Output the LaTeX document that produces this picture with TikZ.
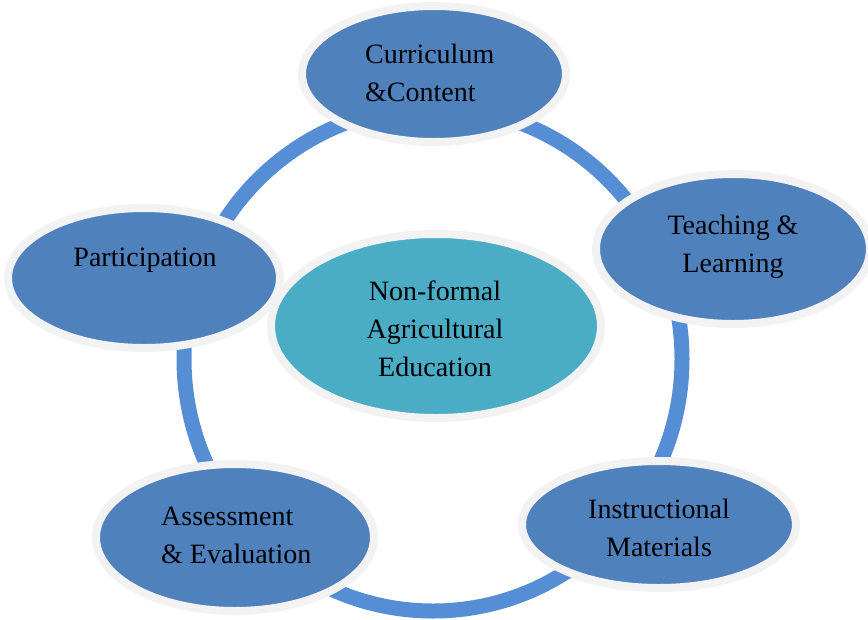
\documentclass[tikz,border=0pt]{standalone}
\usepackage{fontspec}
\setmainfont{Liberation Serif}
\usetikzlibrary{shapes.geometric}
\definecolor{ringblue}{HTML}{558ED5}
\definecolor{bubblefill}{HTML}{4F81BD}
\definecolor{hubfill}{HTML}{4BACC6}
\definecolor{rimgray}{HTML}{F2F2F2}
\begin{document}
\begin{tikzpicture}[x=1pt,y=-1pt,
    bubble/.style={ellipse,draw=rimgray,line width=8pt,fill=bubblefill,inner sep=0pt},
    lbl/.style={inner sep=0pt,text=black,font=\fontsize{28}{38}\selectfont}]
    \useasboundingbox[fill=white] (0,0) rectangle (868,619);
    % ring behind the bubbles
    \draw[ringblue,line width=15pt] (433,359) ellipse [x radius=249, y radius=252];
    % bubbles
    \node[bubble,minimum width=264pt,minimum height=136pt] (curr) at (434,74) {};
    \node[bubble,minimum width=274pt,minimum height=150pt] (teach) at (733,249) {};
    \node[bubble,minimum width=272pt,minimum height=140pt] (part) at (144,278) {};
    \node[bubble,minimum width=278pt,minimum height=147pt] (assess) at (235,537.5) {};
    \node[bubble,minimum width=274pt,minimum height=127pt] (instr) at (659,524.5) {};
    \node[bubble,fill=hubfill,minimum width=330pt,minimum height=184pt] (hub) at (436,326) {};
    % texts
    \node[lbl,align=left,anchor=west] (currtxt) at (365,73) {Curriculum\\\&Content};
    \node[lbl,align=center] (teachtxt) at (733,247) {Teaching \&\\Learning};
    \node[lbl] (parttxt) at (145,260.5) {Participation};
    \node[lbl,align=left,anchor=west] (assesstxt) at (161,535) {Assessment\\\& Evaluation};
    \node[lbl,align=center] (instrtxt) at (659,528) {Instructional\\Materials};
    \node[lbl,align=center] (hubtxt) at (435,329) {Non-formal\\Agricultural\\Education};
\end{tikzpicture}
\end{document}
